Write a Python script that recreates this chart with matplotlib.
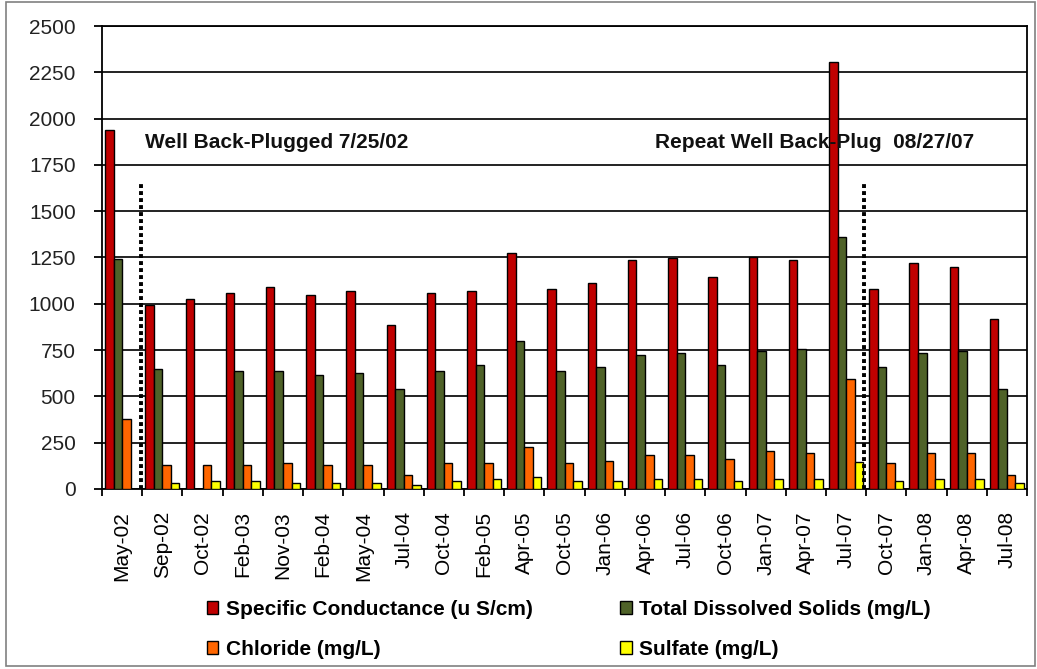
import numpy as np
import matplotlib
matplotlib.use("Agg")
import matplotlib.pyplot as plt
from matplotlib.patches import Patch, Rectangle

plt.rcParams['font.family'] = ['Liberation Sans', 'DejaVu Sans']

# --- data
dates = ['May-02', 'Sep-02', 'Oct-02', 'Feb-03', 'Nov-03', 'Feb-04', 'May-04',
         'Jul-04', 'Oct-04', 'Feb-05', 'Apr-05', 'Oct-05', 'Jan-06', 'Apr-06',
         'Jul-06', 'Oct-06', 'Jan-07', 'Apr-07', 'Jul-07', 'Oct-07', 'Jan-08',
         'Apr-08', 'Jul-08']
cond = [1936, 995, 1027, 1059, 1091, 1048, 1070, 888, 1060, 1070, 1275, 1081,
        1113, 1235, 1245, 1147, 1253, 1235, 2305, 1081, 1220, 1199, 918]
tds = [1243, 648, np.nan, 639, 639, 616, 627, 540, 637, 670, 800, 637, 659,
       724, 735, 670, 745, 756, 1361, 659, 735, 745, 540]
chloride = [378, 130, 130, 130, 140, 130, 130, 76, 140, 140, 227, 140, 151,
            184, 184, 162, 205, 194, 594, 140, 194, 194, 76]
sulfate = [np.nan, 32, 43, 43, 32, 32, 32, 22, 43, 54, 65, 43, 43, 54, 54,
           43, 54, 54, 148, 43, 54, 54, 32]

series = [cond, tds, chloride, sulfate]
names = ['Specific Conductance (u S/cm)', 'Total Dissolved Solids (mg/L)',
         'Chloride (mg/L)', 'Sulfate (mg/L)']
colors = ['#C00000', '#4F6228', '#FF6600', '#FFFF00']

# back-plug events (x in category units) and their labels
plug_x = [0.48, 18.45]
plug_top = 1660
notes = ['Well Back-Plugged 7/25/02', 'Repeat Well Back-Plug  08/27/07']
note_x = [0.58, 13.25]
note_y = 1870

fig = plt.figure(figsize=(10.37, 6.69), dpi=100)
ax = fig.add_axes([0.0984, 0.2691, 0.8920, 0.6920])

x = np.arange(len(dates))
w = 0.212
for i, (vals, col) in enumerate(zip(series, colors)):
    ax.bar(x + (i - 1.5) * w, vals, width=w, color=col, edgecolor='black',
           linewidth=1.0, zorder=3)

ax.set_xlim(-0.5, len(dates) - 0.5)
ax.set_ylim(0, 2500)
ax.set_yticks(np.arange(0, 2501, 250))
ax.yaxis.grid(True, color='#111111', linewidth=1.3, zorder=0)
ax.set_axisbelow(True)

ax.set_xticks(x)
ax.set_xticklabels(dates, rotation=90, fontsize=15)
ax.set_xticks(np.arange(-0.5, len(dates)), minor=True)
ax.tick_params(axis='x', which='major', length=0, pad=16)
ax.tick_params(axis='x', which='minor', length=5, width=1.3, direction='out')
ax.tick_params(axis='y', length=6, width=1.3, pad=13, labelsize=15,
               labelcolor='#222222')
for s in ax.spines.values():
    s.set_linewidth(1.3)

for px in plug_x:
    ax.plot([px, px], [0, plug_top], color='black', linewidth=2.8,
            linestyle=(0, (1, 0.8)), solid_capstyle='butt',
            dash_capstyle='butt', zorder=4)

for t, nx in zip(notes, note_x):
    ax.text(nx, note_y, t, fontsize=15, fontweight='bold', color='#111111',
            va='center', ha='left', zorder=5)

# legend is filled column by column: put items so rows read as in the original
order = [0, 2, 1, 3]
handles = [Patch(facecolor=colors[k], edgecolor='black', linewidth=1.0)
           for k in order]
labels = [names[k] for k in order]
fig.legend(handles, labels, ncol=2, loc='upper left',
           bbox_to_anchor=(207 / 1037, 1 - 600 / 669), frameon=False,
           prop={'size': 15, 'weight': 'bold'}, handlelength=0.55,
           handleheight=0.55, handletextpad=0.35, columnspacing=4.2,
           labelspacing=1.0, borderpad=0, borderaxespad=0)

fig.patches.append(Rectangle((0.006, 0.004), 0.992, 0.993,
                             transform=fig.transFigure, fill=False,
                             edgecolor='#808080', linewidth=1.2))

fig.savefig('out.png', dpi=100)
